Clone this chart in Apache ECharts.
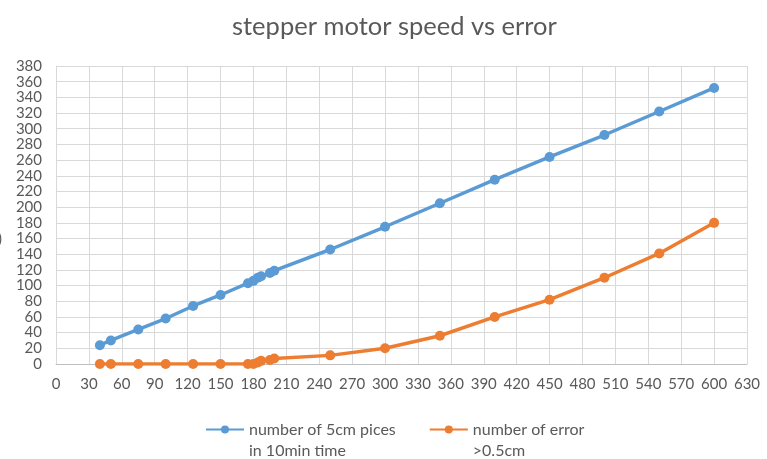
<!DOCTYPE html>
<html>
<head>
<meta charset="utf-8">
<script src="https://cdn.jsdelivr.net/npm/echarts@6/dist/echarts.min.js"></script>
<style>
  html, body { margin: 0; padding: 0; background: #ffffff; }
  #chart { width: 767px; height: 459px; }
</style>
</head>
<body>
<div id="chart"></div>
<script>
// Motor speed settings (x) shared by both series
const speeds = [40, 50, 75, 100, 125, 150, 175, 180, 184, 187, 195, 199, 250, 300, 350, 400, 450, 500, 550, 600];
// Pieces cut in 10 minutes
const pieces = [24, 30, 44, 58, 74, 88, 103, 106, 110, 112, 116, 119, 146, 175, 205, 235, 264, 292, 322, 352];
// Pieces with error above 0.5 cm
const errors = [0, 0, 0, 0, 0, 0, 0, 0, 2, 4, 5, 7, 11, 20, 36, 60, 82, 110, 141, 180];

const seriesNames = ['number of 5cm pices\nin 10min time', 'number of error\n>0.5cm'];
const titleText = 'stepper motor speed vs error';

const FONT = 'Lato, "Open Sans", sans-serif';
const TEXT = '#595959';

function pairs(xs, ys) {
  return xs.map((x, i) => [x, ys[i]]);
}

const chart = echarts.init(document.getElementById('chart'), null, { renderer: 'canvas' });

chart.setOption({
  backgroundColor: '#ffffff',
  animation: false,
  title: {
    text: titleText,
    left: 227,
    top: 9,
    textStyle: { fontFamily: FONT, fontSize: 25.5, fontWeight: 'normal', color: TEXT }
  },
  grid: { left: 56, right: 20, top: 66, bottom: 95, containLabel: false },
  xAxis: {
    type: 'value',
    min: 0,
    max: 630,
    interval: 30,
    axisLine: { show: true, lineStyle: { color: '#bfbfbf', width: 1 } },
    axisTick: { show: false },
    axisLabel: { color: TEXT, fontFamily: FONT, fontSize: 15, margin: 13, showMaxLabel: true, showMinLabel: true },
    splitLine: { show: true, lineStyle: { color: '#d9d9d9', width: 1 } }
  },
  yAxis: {
    type: 'value',
    min: 0,
    max: 380,
    interval: 20,
    axisLine: { show: true, lineStyle: { color: '#d9d9d9', width: 1 } },
    axisTick: { show: false },
    axisLabel: { color: TEXT, fontFamily: FONT, fontSize: 15, margin: 14 },
    splitLine: { show: true, lineStyle: { color: '#d9d9d9', width: 1 } }
  },
  legend: {
    left: 200,
    top: 393,
    itemWidth: 38,
    itemHeight: 10,
    itemGap: 33,
    // leading blank line keeps the first text line level with the legend icon
    formatter: name => '\n' + name,
    textStyle: { color: TEXT, fontFamily: FONT, fontSize: 16, lineHeight: 21 },
    data: seriesNames
  },
  graphic: [
    { type: 'text', left: -2, top: 232, style: { text: ')', fill: TEXT, font: '15px ' + FONT } }
  ],
  series: [
    {
      name: seriesNames[0],
      type: 'line',
      data: pairs(speeds, pieces),
      symbol: 'circle',
      symbolSize: 10,
      lineStyle: { color: '#5B9BD5', width: 3.5 },
      itemStyle: { color: '#5B9BD5' }
    },
    {
      name: seriesNames[1],
      type: 'line',
      data: pairs(speeds, errors),
      symbol: 'circle',
      symbolSize: 10,
      lineStyle: { color: '#ED7D31', width: 3.5 },
      itemStyle: { color: '#ED7D31' }
    }
  ]
});
</script>
</body>
</html>
